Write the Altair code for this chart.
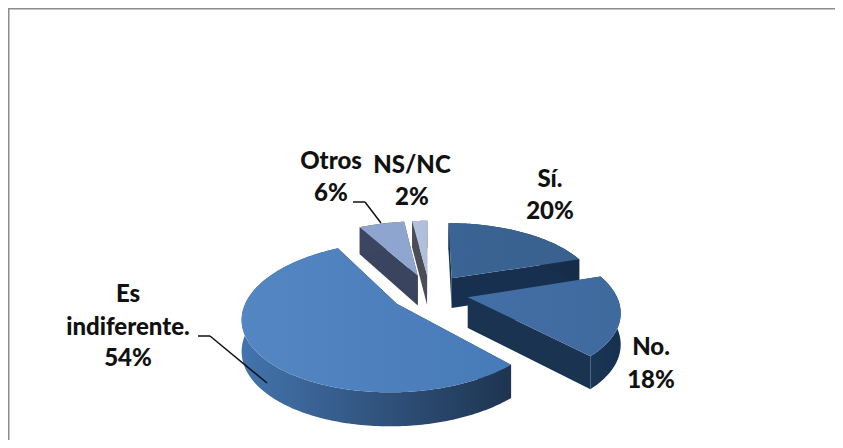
import math
import altair as alt

# Data
categories = ["Sí.", "No.", "Es indiferente.", "Otros", "NS/NC"]
percentages = [20, 18, 54, 6, 2]
top_start = ["#3a6494", "#426fa6", "#5486c2", "#8ea4cf", "#b4c2de"]
top_end = ["#3a618e", "#3f6a9e", "#477ab8", "#8fa6d0", "#aebddb"]
rim_start = ["#1a3557", "#1b3556", "#4374ad", "#3b4660", "#4a4d58"]
rim_end = ["#162c49", "#16304e", "#1e3450", "#3b4660", "#4a4d58"]
cut_colors = ["#17304f", "#1a3350", "#1e3552", "#3a445e", "#4a4d58"]
label_lines = [["Sí.", "20%"], ["No.", "18%"], ["Es", "indiferente.", "54%"], ["Otros", "6%"], ["NS/NC", "2%"]]

# Layout of the drawing (page pixels, the svg starts at 8,8)
CX, CY = 429.4, 292.6
EXPLODE = 0.266
R, KR, P = 147.5, 69.1, 0.172
DEPTH = 30.5
label_x = [550, 651, 128, 331, 412]
label_y = [[180, 212], [348, 381], [295, 328, 359], [162, 194], [166, 198]]
FONT = "Lato"
FONT_SIZE = 24
W, H = 827, 432


def project(deg, ex, ey):
    a = math.radians(deg)
    u, v = math.sin(a) + ex, math.cos(a) + ey
    den = 1 + P * v
    return CX + R * u / den, CY - KR * v / den, DEPTH * (1 - 0.1 * v)


def apex_of(ex, ey):
    den = 1 + P * ey
    return CX + R * ex / den, CY - KR * ey / den, DEPTH * (1 - 0.1 * ey)


def poly(points):
    pts = [[x - 8, y - 8] for x, y in points]
    pts.append(pts[0])
    return {"type": "Feature", "properties": {}, "geometry": {"type": "Polygon", "coordinates": [pts]}}


projection = dict(type="identity", scale=1, translate=[0, 0])


def shape(points, c0, c1):
    fill = alt.Gradient(gradient="linear", x1=0, x2=1, y1=0, y2=0,
                        stops=[alt.GradientStop(offset=0, color=c0), alt.GradientStop(offset=1, color=c1)])
    return alt.Chart(alt.Data(values=[poly(points)])).mark_geoshape(fill=fill, stroke=None).project(**projection)


slices = {}
start = 0.0
total = sum(percentages)
for i, pct in enumerate(percentages):
    end = start + 360.0 * pct / total
    mid = math.radians((start + end) / 2)
    ex, ey = EXPLODE * math.sin(mid), EXPLODE * math.cos(mid)
    n = max(6, int(end - start))
    angles = [start + (end - start) * k / n for k in range(n + 1)]
    rim = [project(t, ex, ey) for t in angles]
    top = [(x, y) for x, y, d in rim]
    low = [(x, y + d) for x, y, d in rim]
    ax, ay, ad = apex_of(ex, ey)
    apex = (ax, ay)
    apex_low = (ax, ay + ad)
    slices[i] = [
        shape([apex, top[0], low[0], apex_low], cut_colors[i], cut_colors[i]),
        shape([apex, top[-1], low[-1], apex_low], cut_colors[i], cut_colors[i]),
        shape(top + low[::-1], rim_start[i], rim_end[i]),
        shape([apex] + top, top_start[i], top_end[i]),
    ]
    start = end

layers = []
for i in [3, 4, 0, 1, 2]:
    layers += slices[i]


def seg(x0, y0, x1, y1, color="#111111", width=1.5):
    return alt.Chart(alt.Data(values=[{"a": 0}])).mark_rule(color=color, strokeWidth=width).encode(
        x=alt.value(x0 - 8), x2=alt.value(x1 - 8), y=alt.value(y0 - 8), y2=alt.value(y1 - 8))


layers += [seg(198, 336, 210, 336), seg(210, 336, 267, 383),
           seg(353, 202, 365, 202), seg(365, 202, 381, 223)]
layers += [seg(8, 8.5, 843, 8.5, "#8c8c8c", 2), seg(8.5, 8, 8.5, 448, "#8c8c8c", 2)]

for i, lines in enumerate(label_lines):
    for line, y in zip(lines, label_y[i]):
        layers.append(alt.Chart(alt.Data(values=[{"t": line}])).mark_text(
            font=FONT, fontWeight=900, fontSize=FONT_SIZE, color="#111111", align="center", baseline="middle"
        ).encode(text="t:N", x=alt.value(label_x[i] - 8), y=alt.value(y - 8)))

chart = alt.layer(*layers).properties(width=W, height=H, padding=0, background="white", autosize="none").configure_view(stroke=None)
chart.save("out.html", embed_options={"renderer": "svg", "actions": False})
